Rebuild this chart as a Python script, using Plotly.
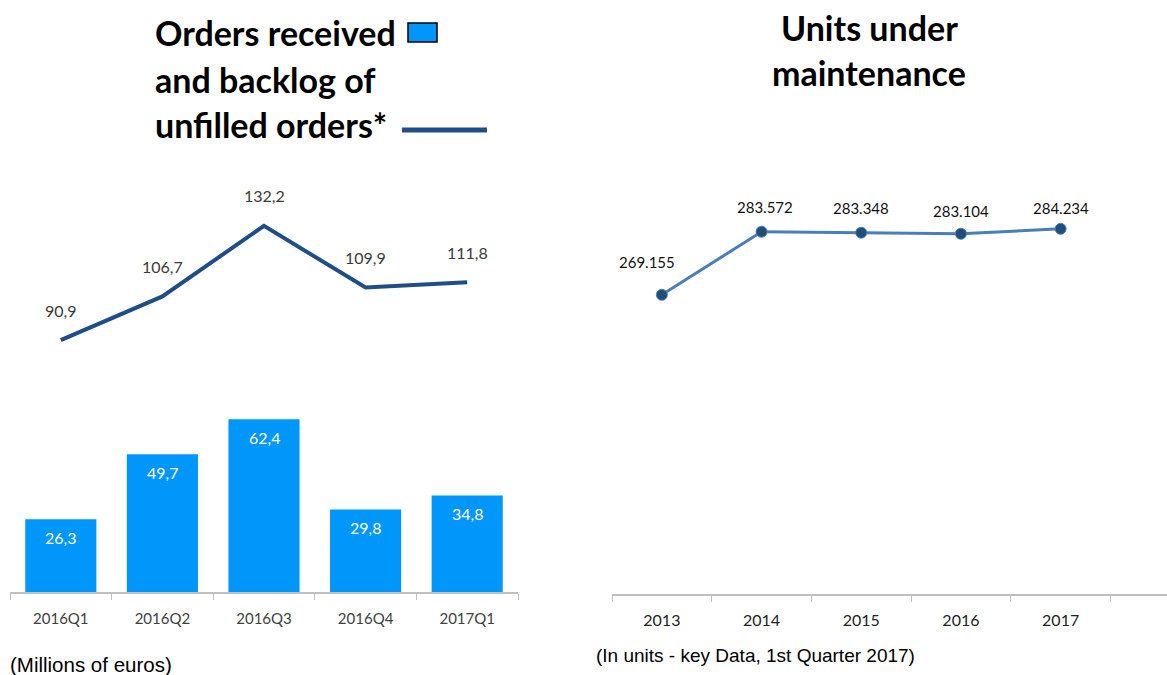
import plotly.graph_objects as go

# ---------------- data ----------------
quarters = ["2016Q1", "2016Q2", "2016Q3", "2016Q4", "2017Q1"]
orders_received = [26.3, 49.7, 62.4, 29.8, 34.8]
backlog = [90.9, 106.7, 132.2, 109.9, 111.8]

years = ["2013", "2014", "2015", "2016", "2017"]
units_maintenance = [269.155, 283.572, 283.348, 283.104, 284.234]

# ---------------- layout helpers ----------------
W, H = 1167, 675
def px(x):
    return x / W
def py(y):
    return 1 - y / H

def fmt_comma(v):
    return f"{v:.1f}".replace(".", ",")

BAR_C = "#0096FA"
NAVY = "#1F4E87"
LINE_BLUE = "#4A7EBB"
LBL = "Lato"

fig = go.Figure()

# Left chart: bars + line share one axis
fig.add_trace(go.Bar(x=quarters, y=orders_received, marker=dict(color=BAR_C, line=dict(width=0)),
                     width=0.7, xaxis="x", yaxis="y", hoverinfo="skip"))
fig.add_trace(go.Scatter(x=quarters, y=backlog, mode="lines", line=dict(color=NAVY, width=4),
                         xaxis="x", yaxis="y", hoverinfo="skip"))

# Right chart
fig.add_trace(go.Scatter(x=years, y=units_maintenance, mode="lines+markers",
                         line=dict(color=LINE_BLUE, width=3),
                         marker=dict(size=11, color="#1F4E79", line=dict(color=LINE_BLUE, width=1)),
                         xaxis="x2", yaxis="y2", hoverinfo="skip"))

annotations = []
for i, v in enumerate(orders_received):
    annotations.append(dict(x=i, y=v, xref="x", yref="y", text=fmt_comma(v), showarrow=False,
                            yshift=-18, font=dict(family=LBL, size=16, color="white")))
for i, v in enumerate(backlog):
    annotations.append(dict(x=i, y=v, xref="x", yref="y", text=fmt_comma(v), showarrow=False,
                            yshift=30, font=dict(family=LBL, size=16, color="#3a3a3a")))

label_offsets = [(-15, 33), (3, 25), (0, 25), (0, 23), (0, 21)]
for i, (v, (dx, dy)) in enumerate(zip(units_maintenance, label_offsets)):
    annotations.append(dict(x=i, y=v, xref="x2", yref="y2", text=f"{v:.3f}", showarrow=False,
                            xshift=dx, yshift=dy, font=dict(family=LBL, size=15, color="#111111")))

TF = dict(family="Lato", size=34, color="black")
for txt, yy in [("<b>Orders received</b>", 33), ("<b>and backlog of</b>", 79), ("<b>unfilled orders*</b>", 124)]:
    annotations.append(dict(x=px(153), y=py(yy), xref="paper", yref="paper", text=txt, showarrow=False,
                            xanchor="left", yanchor="middle", font=TF))
for txt, yy in [("<b>Units under</b>", 27), ("<b>maintenance</b>", 72)]:
    annotations.append(dict(x=px(869), y=py(yy), xref="paper", yref="paper", text=txt, showarrow=False,
                            xanchor="center", yanchor="middle", font=TF))

annotations.append(dict(x=px(8), y=py(664), xref="paper", yref="paper", text="(Millions of euros)",
                        showarrow=False, xanchor="left", yanchor="middle",
                        font=dict(family="Liberation Sans", size=20.5, color="black")))
annotations.append(dict(x=px(594), y=py(655), xref="paper", yref="paper",
                        text="(In units - key Data, 1st Quarter 2017)",
                        showarrow=False, xanchor="left", yanchor="middle",
                        font=dict(family="Liberation Sans", size=19, color="black")))

shapes = [
    dict(type="rect", xref="paper", yref="paper", x0=px(408), x1=px(437), y0=py(42), y1=py(23),
         fillcolor=BAR_C, line=dict(color="black", width=1.5)),
    dict(type="line", xref="paper", yref="paper", x0=px(402), x1=px(487), y0=py(130), y1=py(130),
         line=dict(color=NAVY, width=5)),
]

# axis geometry
left_scale = 2.77  # px per unit
l_top = 592 - 150 * left_scale
r_scale = 4.377
r_min, r_max = 200.8, 300
r_top = 594 - (r_max - r_min) * r_scale

fig.update_layout(
    width=W, height=H,
    margin=dict(l=0, r=0, t=0, b=0),
    paper_bgcolor="white", plot_bgcolor="white",
    showlegend=False,
    bargap=0.3,
    xaxis=dict(domain=[px(10), px(518)], type="category", tickson="boundaries",
               ticks="outside", ticklen=6, tickcolor="#BFBFBF", tickwidth=1,
               showline=True, linecolor="#BFBFBF", linewidth=1.5, showgrid=False,
               tickfont=dict(family=LBL, size=15, color="#404040"), anchor="y",
               ticklabelstandoff=12,
               range=[-0.5, 4.5], fixedrange=True),
    yaxis=dict(domain=[py(592), py(l_top)], range=[0, 150], visible=False, showgrid=False,
               anchor="x", fixedrange=True),
    xaxis2=dict(domain=[px(612), 1.0], type="category", tickson="boundaries",
                ticks="outside", ticklen=6, tickcolor="#BFBFBF", tickwidth=1,
                showline=True, linecolor="#BFBFBF", linewidth=1.5, showgrid=False,
                tickfont=dict(family=LBL, size=16, color="#222222"), anchor="y2",
                ticklabelstandoff=11,
                range=[-0.5, 5.067], fixedrange=True),
    yaxis2=dict(domain=[py(594), py(r_top)], range=[r_min, r_max], visible=False, showgrid=False,
                anchor="x2", fixedrange=True),
    annotations=annotations,
    shapes=shapes,
)

fig.write_html("out.html", config={"displayModeBar": False},
               post_script="document.body.style.margin='0px';document.body.style.overflow='hidden';")
